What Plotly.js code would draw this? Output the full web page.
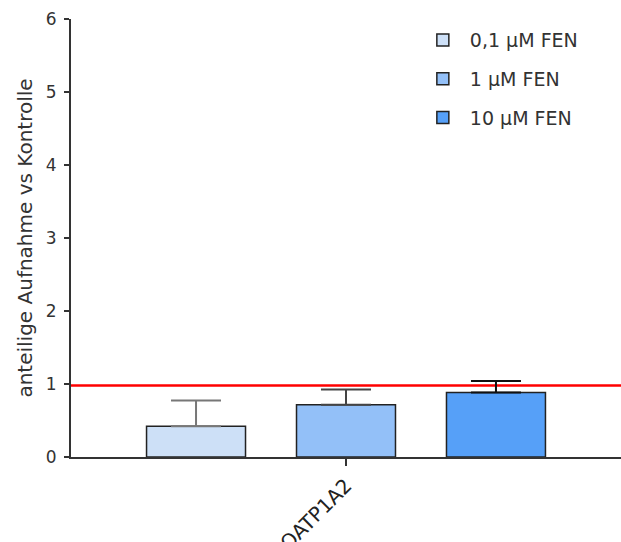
<!DOCTYPE html>
<html>
<head>
<meta charset="utf-8">
<script src="https://cdn.plot.ly/plotly-3.0.1.min.js"></script>
<style>html,body{margin:0;padding:0;background:#fff;}#chart{width:621px;height:542px;}</style>
</head>
<body>
<div id="chart"></div>
<script>
const categories = ["OATP1A2"];
const seriesNames = ["0,1 µM FEN", "1 µM FEN", "10 µM FEN"];
const seriesValues = [[0.42], [0.715], [0.885]];
const seriesErrors = [[0.355], [0.21], [0.155]];
const seriesColors = ["#cde0f7", "#93c0f8", "#56a0f8"];
const errorColors = ["#777777", "#444444", "#111111"];
const yTickValues = [0, 1, 2, 3, 4, 5, 6];
const referenceValue = 0.98;

const font = "DejaVu Sans, Arial, sans-serif";

const traces = seriesNames.map((name, i) => ({
  type: "bar",
  name: name,
  x: categories,
  y: seriesValues[i],
  legendgroup: "g" + i,
  marker: { color: seriesColors[i], line: { color: "#222", width: 1.5 } },
  error_y: {
    type: "data",
    symmetric: false,
    array: seriesErrors[i],
    arrayminus: [0],
    color: errorColors[i],
    thickness: 2,
    width: 25
  }
}));

const layout = {
  width: 621,
  height: 542,
  margin: { l: 71, r: 0, t: 19, b: 85 },
  paper_bgcolor: "#fff",
  plot_bgcolor: "#fff",
  barmode: "group",
  bargap: 0.182,
  bargroupgap: 0.34,
  showlegend: true,
  legend: {
    x: 0.627, y: 0.995, xanchor: "left", yanchor: "top",
    font: { family: font, size: 19, color: "#333" },
    traceorder: "grouped",
    tracegroupgap: 11,
    itemwidth: 44,
    bgcolor: "rgba(0,0,0,0)"
  },
  xaxis: {
    type: "category",
    showline: true, linecolor: "#333", linewidth: 2,
    ticks: "outside", ticklen: 7, tickwidth: 2, tickcolor: "#333",
    tickangle: -45,
    tickfont: { family: font, size: 20, color: "#222" },
    showgrid: false, zeroline: false, fixedrange: true
  },
  yaxis: {
    range: [0, 6],
    tickvals: yTickValues,
    ticktext: yTickValues.map(String),
    showline: true, linecolor: "#333", linewidth: 2,
    ticks: "outside", ticklen: 5, tickwidth: 2, tickcolor: "#333",
    ticklabelstandoff: 4,
    tickfont: { family: font, size: 17, color: "#333" },
    showgrid: false, zeroline: false,
    title: { text: "anteilige Aufnahme vs Kontrolle", font: { family: font, size: 20, color: "#333" }, standoff: 8 }
  },
  shapes: [{
    type: "line", xref: "paper", x0: 0, x1: 1, yref: "y", y0: referenceValue, y1: referenceValue,
    line: { color: "#ff0000", width: 2.5 }, layer: "below"
  }]
};

Plotly.newPlot("chart", traces, layout, { displayModeBar: false, staticPlot: true });
</script>
</body>
</html>
